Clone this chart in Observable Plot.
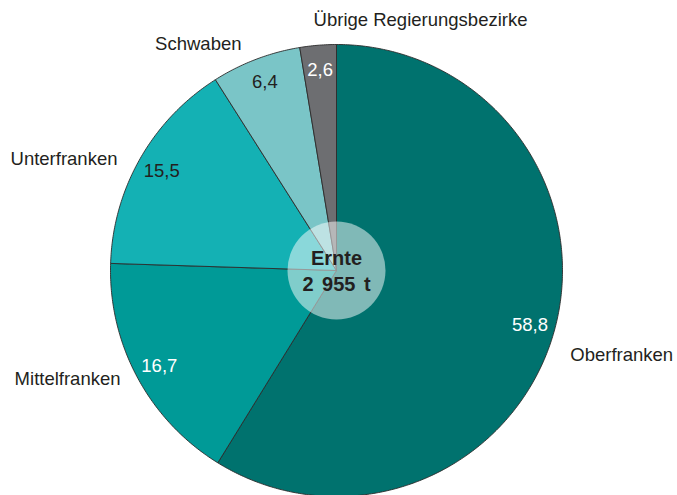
<!DOCTYPE html>
<html>
<head>
<meta charset="utf-8">
<script src="https://cdn.jsdelivr.net/npm/d3@7"></script>
<script src="https://cdn.jsdelivr.net/npm/@observablehq/plot@0.6"></script>
<style>
  html, body { margin: 0; padding: 0; background: #fff; }
  #chart svg { display: block; }
</style>
</head>
<body>
<div id="chart"></div>
<script>
// ---- data ----
const categories = ["Oberfranken", "Mittelfranken", "Unterfranken", "Schwaben", "Übrige Regierungsbezirke"];
const shares = [58.8, 16.7, 15.5, 6.4, 2.6];
const colors = ["#00726e", "#009a97", "#14b1b4", "#7ac5c7", "#6d6e71"];
const valueColors = ["#ffffff", "#ffffff", "#231f20", "#231f20", "#ffffff"];
const centerLines = ["Ernte", "2 955 t"];

// ---- layout ----
const W = 677, H = 495;
const cx = 336, cy = 270, R = 226;
const font = "'Liberation Sans', Arial, Helvetica, sans-serif";
const labelLayout = {
  "Oberfranken": {anchor: "start", dx: -1, dy: 18},
  "Mittelfranken": {anchor: "end", dx: -1, dy: -7},
  "Unterfranken": {anchor: "end", dx: -7, dy: 10},
  "Schwaben": {anchor: "end", dx: -8, dy: 2},
  "Übrige Regierungsbezirke": {anchor: "start", dx: -3, dy: -7}
};

const arcs = d3.pie().sort(null).value(d => d.value).startAngle(0).endAngle(2 * Math.PI)(
  categories.map((name, i) => ({name, value: shares[i]}))
);

// polygon points for each slice
const polys = [];
arcs.forEach(a => {
  const n = Math.max(2, Math.ceil((a.endAngle - a.startAngle) / 0.01));
  polys.push({name: a.data.name, x: 0, y: 0});
  for (let k = 0; k <= n; k++) {
    const t = a.startAngle + (a.endAngle - a.startAngle) * k / n;
    polys.push({name: a.data.name, x: Math.sin(t), y: Math.cos(t)});
  }
  polys.push({name: a.data.name, x: 0, y: 0});
});

const mid = a => (a.startAngle + a.endAngle) / 2;
const valueLabels = arcs.map((a, i) => ({
  name: a.data.name,
  text: String(a.data.value).replace(".", ","),
  x: 0.89 * Math.sin(mid(a)),
  y: 0.89 * Math.cos(mid(a)),
  color: valueColors[i]
}));
const catLabels = arcs.map(a => ({
  name: a.data.name,
  x: 1.08 * Math.sin(mid(a)),
  y: 1.08 * Math.cos(mid(a))
}));

const marks = [
  Plot.line(polys, {x: "x", y: "y", z: "name", fill: "name", stroke: "#2b2b2b", strokeWidth: 0.9, strokeLinejoin: "round"}),
  Plot.text(valueLabels, {x: "x", y: "y", text: "text", fill: "color", fontSize: 18.5, fontFamily: font}),
  Plot.dot([{x: 0, y: 0}], {x: "x", y: "y", r: 49, fill: "#ffffff", fillOpacity: 0.5, stroke: "none"}),
  Plot.text([centerLines.join("\n")], {x: () => 0, y: () => 0, text: d => d, fontSize: 20, fontWeight: "bold", fill: "#231f20", fontFamily: font, lineHeight: 1.3, dy: -1})
];
catLabels.forEach(l => {
  const lay = labelLayout[l.name];
  marks.push(Plot.text([l], {x: "x", y: "y", text: "name", textAnchor: lay.anchor, dx: lay.dx, dy: lay.dy, fontSize: 18.5, fill: "#231f20", fontFamily: font}));
});

const chart = Plot.plot({
  width: W,
  height: H,
  margin: 0,
  x: {domain: [-cx / R, (W - cx) / R], axis: null},
  y: {domain: [-(H - cy) / R, cy / R], axis: null},
  color: {domain: categories, range: colors},
  style: {background: "#fff", fontFamily: font},
  marks
});
// slightly wider word spacing in the centre label
d3.select(chart).selectAll("text").filter(function () { return this.textContent.includes("Ernte"); })
  .style("word-spacing", "3px");
document.getElementById("chart").appendChild(chart);
</script>
</body>
</html>
